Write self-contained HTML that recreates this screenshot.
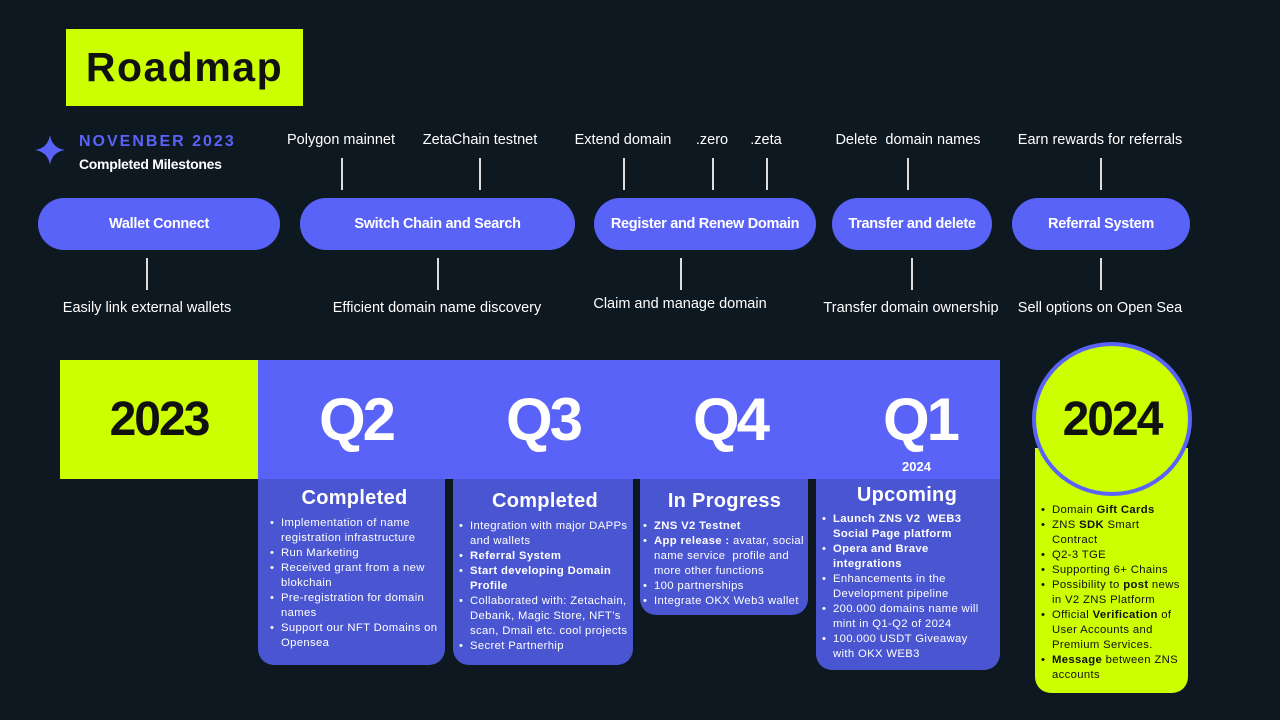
<!DOCTYPE html>
<html><head><meta charset="utf-8"><style>
*{margin:0;padding:0;box-sizing:border-box}
body{width:1280px;height:720px;background:#0e1821;position:relative;overflow:hidden;font-family:"Liberation Sans",sans-serif;color:#fff}
.a{position:absolute}
.pill{position:absolute;top:198px;height:52px;border-radius:26px;background:#5a63f8;color:#fff;font-weight:bold;font-size:14.5px;display:flex;align-items:center;justify-content:center;letter-spacing:-0.3px}
.lbl{position:absolute;font-size:14.5px;color:#fff;white-space:nowrap;transform:translateX(-50%)}
.vl{position:absolute;width:1.5px;background:#ddd}
.q{position:absolute;top:385px;font-size:60px;font-weight:bold;color:#fff;letter-spacing:-3px;transform:translateX(-50%)}
.card{position:absolute;background:#4a55d1;border-radius:0 0 16px 16px;padding:0 6px 0 12px}
.card h3{text-align:center;font-size:20px;font-weight:bold;margin:8px 0 6px;letter-spacing:0.3px}
.card ul{list-style:none;font-size:11.3px;line-height:15px;letter-spacing:0.35px}
.card li{padding-left:11px;position:relative}
.card li:before{content:"•";position:absolute;left:0}
</style></head><body>
<div class="a" style="left:66px;top:29px;width:237px;height:77px;background:#ccff00;color:#111;font-size:41px;font-weight:bold;display:flex;align-items:center;justify-content:center;letter-spacing:1.5px">Roadmap</div>
<svg class="a" style="left:35px;top:135px" width="30" height="30" viewBox="0 0 30 30"><path d="M15 0 Q17 13 30 15 Q17 17 15 30 Q13 17 0 15 Q13 13 15 0Z" fill="#5a63f8"/></svg>
<div class="a" style="left:79px;top:133px;font-size:16px;font-weight:bold;color:#5a63f8;letter-spacing:2px">NOVENBER 2023</div>
<div class="a" style="left:79px;top:156px;font-size:14px;font-weight:bold;letter-spacing:-0.3px">Completed Milestones</div>

<div class="lbl" style="left:341px;top:132px">Polygon mainnet</div>
<div class="lbl" style="left:480px;top:132px">ZetaChain testnet</div>
<div class="lbl" style="left:623px;top:132px">Extend domain</div>
<div class="lbl" style="left:712px;top:132px">.zero</div>
<div class="lbl" style="left:766px;top:132px">.zeta</div>
<div class="lbl" style="left:908px;top:132px">Delete&nbsp; domain names</div>
<div class="lbl" style="left:1100px;top:132px">Earn rewards for referrals</div>
<div class="vl" style="left:341px;top:158px;height:32px"></div>
<div class="vl" style="left:479px;top:158px;height:32px"></div>
<div class="vl" style="left:623px;top:158px;height:32px"></div>
<div class="vl" style="left:712px;top:158px;height:32px"></div>
<div class="vl" style="left:766px;top:158px;height:32px"></div>
<div class="vl" style="left:907px;top:158px;height:32px"></div>
<div class="vl" style="left:1100px;top:158px;height:32px"></div>

<div class="pill" style="left:38px;width:242px">Wallet Connect</div>
<div class="pill" style="left:300px;width:275px">Switch Chain and Search</div>
<div class="pill" style="left:594px;width:222px">Register and Renew Domain</div>
<div class="pill" style="left:832px;width:160px">Transfer and delete</div>
<div class="pill" style="left:1012px;width:178px">Referral System</div>

<div class="vl" style="left:146px;top:258px;height:32px"></div>
<div class="vl" style="left:437px;top:258px;height:32px"></div>
<div class="vl" style="left:680px;top:258px;height:32px"></div>
<div class="vl" style="left:911px;top:258px;height:32px"></div>
<div class="vl" style="left:1100px;top:258px;height:32px"></div>
<div class="lbl" style="left:147px;top:300px">Easily link external wallets</div>
<div class="lbl" style="left:437px;top:300px">Efficient domain name discovery</div>
<div class="lbl" style="left:680px;top:296px">Claim and manage domain</div>
<div class="lbl" style="left:911px;top:300px">Transfer domain ownership</div>
<div class="lbl" style="left:1100px;top:300px">Sell options on Open Sea</div>

<div class="a" style="left:60px;top:360px;width:198px;height:119px;background:#ccff00;color:#111;font-size:48px;font-weight:bold;display:flex;align-items:center;justify-content:center;letter-spacing:-2px">2023</div>
<div class="a" style="left:258px;top:360px;width:742px;height:119px;background:#5a63f8"></div>
<div class="q" style="left:356px">Q2</div>
<div class="q" style="left:543px">Q3</div>
<div class="q" style="left:730px">Q4</div>
<div class="q" style="left:920px">Q1</div>
<div class="a" style="left:902px;top:459px;font-size:13px;font-weight:bold">2024</div>

<div class="card" style="left:258px;top:479px;width:187px;height:186px"><h3>Completed</h3><ul>
<li>Implementation of name registration infrastructure</li><li>Run Marketing</li><li>Received grant from a new blokchain</li><li>Pre-registration for domain names</li><li>Support our NFT Domains on Opensea</li></ul></div>
<div class="card" style="left:453px;top:479px;width:180px;height:186px;padding-left:6px;padding-right:2px"><h3 style="margin-top:11px">Completed</h3><ul>
<li>Integration with major DAPPs and wallets</li><li><b>Referral System</b></li><li><b>Start developing Domain Profile</b></li><li>Collaborated with: Zetachain, Debank, Magic Store, NFT’s scan, Dmail etc. cool projects</li><li>Secret Partnerhip</li></ul></div>
<div class="card" style="left:640px;top:479px;width:168px;height:136px;padding-left:3px;padding-right:2px"><h3 style="margin:11px 0 6px">In Progress</h3><ul>
<li><b>ZNS V2 Testnet</b></li><li><b>App release :</b> avatar, social name service&nbsp; profile and more other functions</li><li>100 partnerships</li><li>Integrate OKX Web3 wallet</li></ul></div>
<div class="card" style="left:816px;top:479px;width:184px;height:191px;padding-left:6px;padding-right:8px"><h3 style="margin:5px 0 5px">Upcoming</h3><ul>
<li><b>Launch ZNS V2&nbsp; WEB3 Social Page platform</b></li><li><b>Opera and Brave integrations</b></li><li>Enhancements in the Development pipeline</li><li>200.000 domains name will mint in Q1-Q2 of 2024</li><li>100.000 USDT Giveaway with OKX WEB3</li></ul></div>

<div class="card" style="left:1035px;top:448px;width:153px;height:245px;background:#ccff00;color:#111;padding:55px 4px 0 6px"><ul>
<li>Domain <b>Gift Cards</b></li><li>ZNS <b>SDK</b> Smart Contract</li><li>Q2-3 TGE</li><li>Supporting 6+ Chains</li><li>Possibility to <b>post</b> news in V2 ZNS Platform</li><li>Official <b>Verification</b> of User Accounts and Premium Services.</li><li><b>Message</b> between ZNS accounts</li></ul></div>
<div class="a" style="left:1032px;top:342px;width:160px;height:154px;border-radius:50%;background:#ccff00;border:4px solid #5a63f8;color:#111;font-size:48px;font-weight:bold;display:flex;align-items:center;justify-content:center;letter-spacing:-2px">2024</div>
</body></html>
